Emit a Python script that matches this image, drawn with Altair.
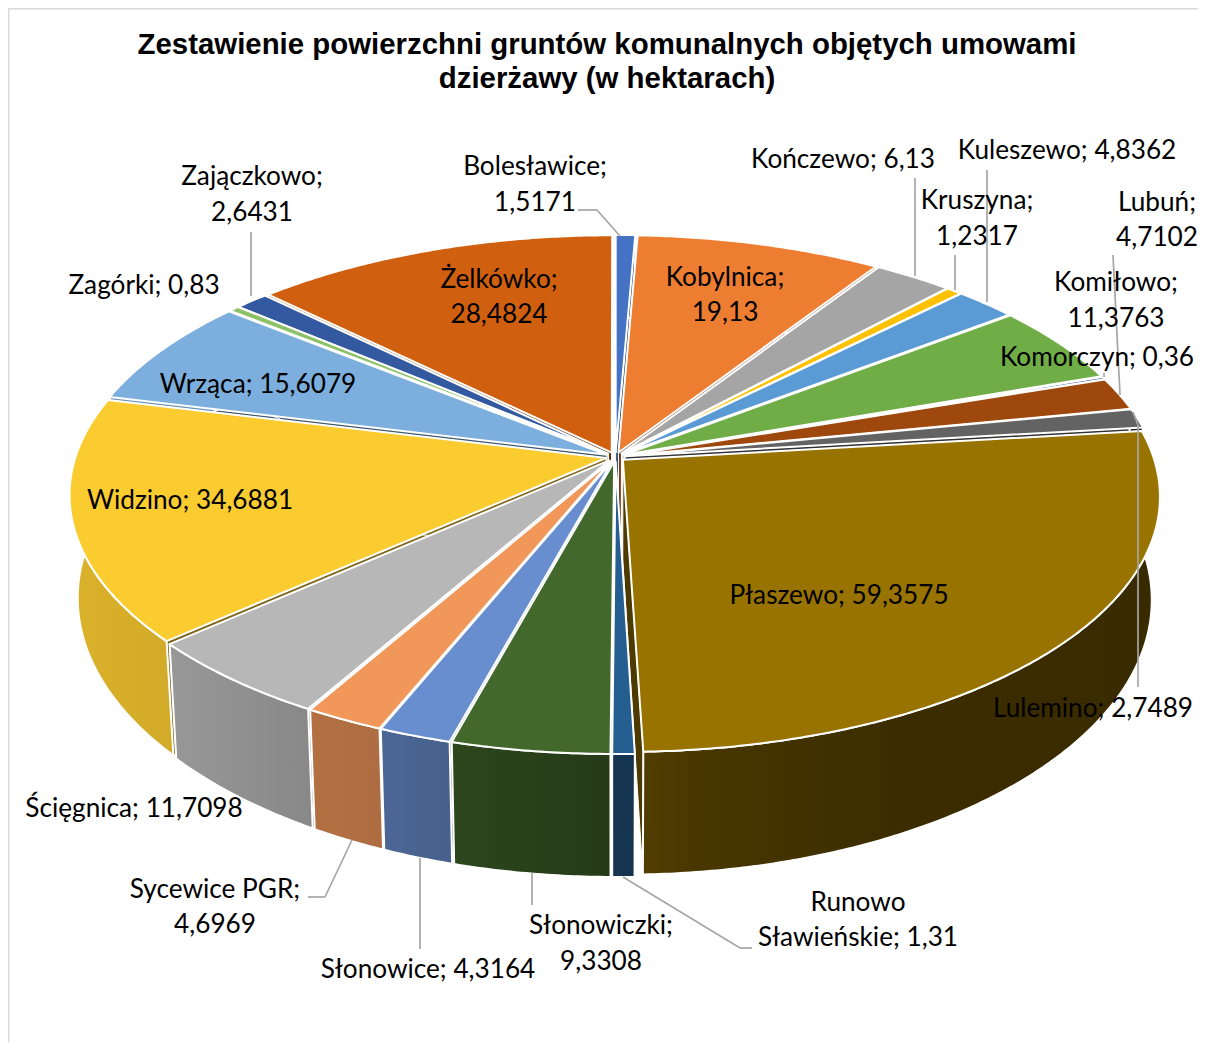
import numpy as np
import pandas as pd
import altair as alt

names = ["Bolesławice", "Kobylnica", "Kończewo", "Kruszyna", "Kuleszewo", "Komiłowo", "Komorczyn",
         "Lubuń", "Lulemino", "Płaszewo", "Runowo Sławieńskie", "Słonowiczki", "Słonowice",
         "Sycewice PGR", "Ścięgnica", "Widzino", "Wrząca", "Zagórki", "Zajączkowo", "Żelkówko"]
values = [1.5171, 19.13, 6.13, 1.2317, 4.8362, 11.3763, 0.36, 4.7102, 2.7489, 59.3575, 1.31,
          9.3308, 4.3164, 4.6969, 11.7098, 34.6881, 15.6079, 0.83, 2.6431, 28.4824]
colors = ["#4472C4", "#ED7D31", "#A5A5A5", "#FFC000", "#5B9BD5", "#70AD47", "#264478", "#9E480E",
          "#636363", "#997300", "#255E91", "#43682B", "#698ED0", "#F1975A", "#B7B7B7", "#FBCC30",
          "#7CAFDD", "#8CC168", "#335AA1", "#D0600F"]

title_lines = ["Zestawienie powierzchni gruntów komunalnych objętych umowami", "dzierżawy (w hektarach)"]

label_text = ["Bolesławice;", "1,5171", "Kończewo; 6,13", "Kuleszewo; 4,8362", "Kruszyna;", "1,2317",
              "Lubuń;", "4,7102", "Komiłowo;", "11,3763", "Komorczyn; 0,36", "Kobylnica;", "19,13",
              "Żelkówko;", "28,4824", "Zajączkowo;", "2,6431", "Zagórki; 0,83", "Wrząca; 15,6079",
              "Widzino; 34,6881", "Płaszewo; 59,3575", "Lulemino; 2,7489", "Ścięgnica; 11,7098",
              "Sycewice PGR;", "4,6969", "Słonowice; 4,3164", "Słonowiczki;", "9,3308", "Runowo",
              "Sławieńskie; 1,31"]
label_x = [535, 535, 843, 1067, 977, 977, 1157, 1157, 1116, 1116, 1097, 725, 725, 499, 499, 252, 252,
           144, 258, 190, 839, 1093, 134, 215, 215, 428, 601, 601, 858, 858]
label_y = [167, 203, 160, 151, 201, 237, 203, 238, 283, 319, 358, 278, 313, 280, 315, 177, 213, 286,
           385, 501, 596, 709, 809, 890, 925, 970, 926, 962, 903, 938]

leaders = [(578, 210, 597, 210), (597, 210, 620, 236), (915, 178, 915, 276), (955, 255, 955, 290),
           (987, 170, 987, 302), (1113, 255, 1120, 395), (1104, 373, 1104, 377), (1133, 412, 1138, 425),
           (1138, 425, 1138, 687), (251, 232, 251, 296), (308, 897, 325, 897), (325, 897, 352, 840),
           (420, 858, 420, 949), (532, 873, 532, 905), (623, 877, 740, 948), (740, 948, 752, 948)]

OFF = 8  # page margin
CX, CY, RX, RY = 615.5, 494.5, 546.0, 259.5
F = -0.145
S = np.sqrt(1 - F * F)
E = 0.018
R = 1 - E
XSCALE_BOTTOM = 0.985


def project(t, mid):
    u = R * np.sin(t) + E * np.sin(mid)
    v = -R * np.cos(t) - E * np.cos(mid)
    d = 1 + F * v
    return CX + RX * u * S / d, CY + RY * (v + F) / d


def drop(x, y):
    yn = (y - CY) / RY
    return CX + (x - CX) * XSCALE_BOTTOM, y + 103 + 20 * yn


def hexmul(col, k):
    rgb = [int(col[i:i + 2], 16) for i in (1, 3, 5)]
    return "#%02x%02x%02x" % tuple(int(round(c * k)) for c in rgb)


def shade(x):
    return float(np.interp(x, [70, 170, 310, 400, 530, 625, 700, 900, 1150],
                           [.87, .83, .74, .71, .62, .55, .47, .39, .37]))


def ring_of(points):
    ring = [[round(float(a) - OFF, 2), round(float(b) - OFF, 2)] for a, b in points]
    ring.append(ring[0])
    return ring


def feature(points):
    return {"type": "Feature", "properties": {},
            "geometry": {"type": "Polygon", "coordinates": [ring_of(points)]}}


def shape(points, fill, sw=2):
    return alt.Chart(alt.Data(values=[feature(points)])).mark_geoshape(
        fill=fill, stroke="white", strokeWidth=sw, strokeJoin="round"
    ).project(type="identity", scale=1, translate=[0, 0])


def sweep(top, bottom, fill):
    quads = [[ring_of([top[k], top[k + 2], bottom[k + 2], bottom[k]])] for k in range(len(top) - 2)]
    feat = {"type": "Feature", "properties": {}, "geometry": {"type": "MultiPolygon", "coordinates": quads}}
    return alt.Chart(alt.Data(values=[feat])).mark_geoshape(
        fill=fill, strokeWidth=0
    ).project(type="identity", scale=1, translate=[0, 0])


total = sum(values)
edges = 2 * np.pi * np.concatenate([[0], np.cumsum(values)]) / total
slices = []
for i in range(len(values)):
    a, b = edges[i], edges[i + 1]
    mid = (a + b) / 2
    slices.append((-np.cos(mid), i, a, b, mid))
slices.sort()

layers = []
for _, i, a, b, mid in slices:
    ts = np.linspace(a, b, max(3, int(np.degrees(b - a) * 2) + 2))
    ax = CX + RX * E * np.sin(mid) * S / (1 + F * (-E * np.cos(mid)))
    ay = CY + RY * (-E * np.cos(mid) + F) / (1 + F * (-E * np.cos(mid)))
    top = [project(t, mid) for t in ts]
    bottom = [drop(x, y) for x, y in top]
    apex_b = drop(ax, ay)
    side = hexmul(colors[i], .5)
    layers.append(shape([(ax, ay), top[0], bottom[0], apex_b], side, 1))
    layers.append(shape([(ax, ay), top[-1], bottom[-1], apex_b], side, 1))
    xs = [p[0] for p in top]
    lo, hi = min(xs), max(xs)
    grad = alt.Gradient(gradient="linear", x1=0, x2=1, y1=0, y2=0, stops=[
        alt.GradientStop(offset=o, color=hexmul(colors[i], shade(lo + o * (hi - lo))))
        for o in (0, .1, .25, .5, 1)])
    if len(ts) > 60:
        layers.append(sweep(top, bottom, grad))
    layers.append(shape(top + bottom[::-1], grad))
    layers.append(shape([(ax, ay)] + top, colors[i]))

nox = dict(scale=None, axis=None)
lead = pd.DataFrame(leaders, columns=["x", "y", "x2", "y2"]) - OFF
leader_layer = alt.Chart(lead).mark_rule(color="#a6a6a6", strokeWidth=1.7).encode(
    x=alt.X("x:Q", **nox), y=alt.Y("y:Q", **nox), x2="x2:Q", y2="y2:Q")

labels = pd.DataFrame({"t": label_text, "x": np.array(label_x) - OFF, "y": np.array(label_y) - OFF})
label_layer = alt.Chart(labels).mark_text(font="Lato", fontSize=26.2, color="#000000", baseline="middle",
                                          align="center").encode(
    x=alt.X("x:Q", **nox), y=alt.Y("y:Q", **nox), text="t:N")

titles = pd.DataFrame({"t": title_lines, "x": [607 - OFF, 607 - OFF], "y": [45 - OFF, 79 - OFF]})
title_layer = alt.Chart(titles).mark_text(font="Liberation Sans", fontWeight="bold", fontSize=29.4,
                                          color="#000000", baseline="middle", align="center").encode(
    x=alt.X("x:Q", **nox), y=alt.Y("y:Q", **nox), text="t:N")

frame = pd.DataFrame({"x": [0, 0.75], "y": [0.75, 0], "x2": [1190, 0.75], "y2": [0.75, 1034]})
frame_layer = alt.Chart(frame).mark_rule(color="#d9d9d9", strokeWidth=1.5).encode(
    x=alt.X("x:Q", **nox), y=alt.Y("y:Q", **nox), x2="x2:Q", y2="y2:Q")

chart = alt.layer(frame_layer, *layers, leader_layer, label_layer, title_layer).properties(
    width=1190, height=1034, padding=0, background="white",
    autosize=alt.AutoSizeParams(type="none")
).configure_view(stroke=None)

chart.save("out.html", embed_options={"renderer": "svg", "actions": False})
